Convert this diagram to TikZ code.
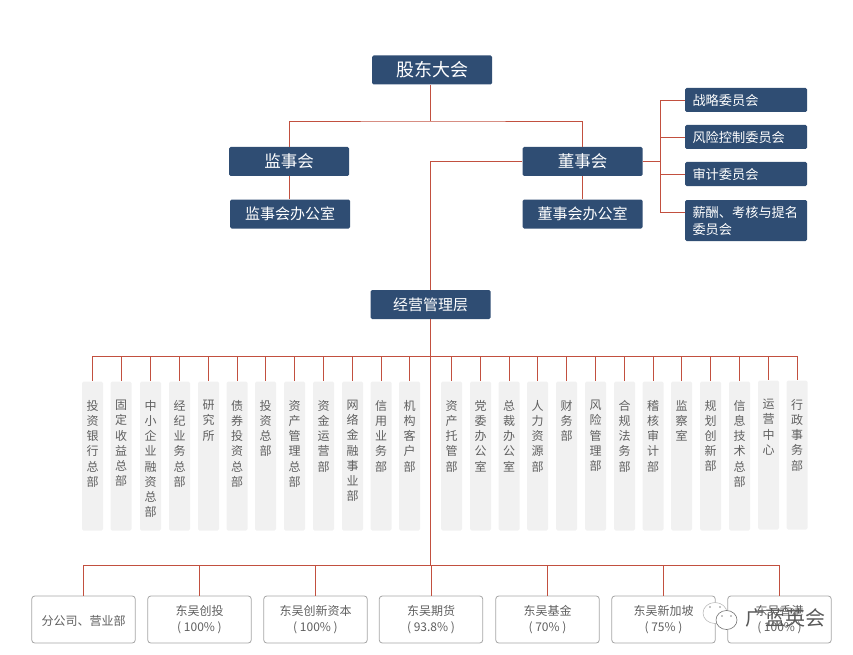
\documentclass[tikz,border=0pt]{standalone}
\usepackage{fontspec}
\setmainfont{Noto Sans CJK SC}
\usepackage{tikz}
\definecolor{navy}{HTML}{2F4D73}
\definecolor{linkred}{HTML}{C2503F}
\definecolor{deptgray}{HTML}{F1F1F1}
\definecolor{textgray}{HTML}{606060}
\newcommand{\vlabel}[1]{\parbox[c][149pt][t]{21pt}{\vspace{18.7pt}\centering #1\par}}

\begin{document}
\begin{tikzpicture}[x=1pt,y=-1pt,-,auto,
  link/.style={draw=linkred,line width=0.85pt},
  main node/.style={fill=navy,text=white,rounded corners=1.5pt,inner sep=0pt,minimum width=120pt,minimum height=29pt},
  committee node/.style={fill=navy,text=white,rounded corners=1.5pt,inner xsep=7.5pt,inner ysep=0pt,text width=107pt,align=left,minimum height=24pt,font=\fontsize{13.2}{17}\selectfont},
  dept node/.style={fill=deptgray,text=textgray,rounded corners=1.5pt,inner sep=0pt,minimum width=21pt,minimum height=149pt,font=\fontsize{12}{15.2}\selectfont},
  sub node/.style={draw=black!35,fill=white,text=textgray,rounded corners=3pt,line width=0.8pt,inner sep=0pt,minimum width=103.5pt,minimum height=47pt,align=center,font=\fontsize{12}{15.5}\selectfont,execute at begin node={\rule{0pt}{13.6pt}}}]
  \useasboundingbox (0,0) rectangle (853,655);
  \node[main node,font=\fontsize{18}{22}\selectfont] (agm) at (432, 70) {股东大会};
  \node[main node,font=\fontsize{16.5}{20}\selectfont] (sup) at (289, 161.5) {监事会};
  \node[main node,font=\fontsize{15}{18}\selectfont] (supoff) at (290, 214) {监事会办公室};
  \node[main node,font=\fontsize{16.5}{20}\selectfont] (board) at (582.5, 161.5) {董事会};
  \node[main node,font=\fontsize{15}{18}\selectfont] (boardoff) at (582.5, 214) {董事会办公室};
  \node[main node,font=\fontsize{15}{18}\selectfont] (mgmt) at (430.5, 304.5) {经营管理层};
  \node[committee node] (c1) at (746, 100) {战略委员会};
  \node[committee node] (c2) at (746, 137) {风险控制委员会};
  \node[committee node] (c3) at (746, 174) {审计委员会};
  \node[committee node,minimum height=41pt] (c4) at (746, 220.5) {薪酬、考核与提名\\委员会};
  \node[dept node] (d1) at (92.5, 456) {\vlabel{投\\资\\银\\行\\总\\部}};
  \node[dept node] (d2) at (121, 456) {\vlabel{固\\定\\收\\益\\总\\部}};
  \node[dept node] (d3) at (150.5, 456) {\vlabel{中\\小\\企\\业\\融\\资\\总\\部}};
  \node[dept node] (d4) at (179.5, 456) {\vlabel{经\\纪\\业\\务\\总\\部}};
  \node[dept node] (d5) at (208.5, 456) {\vlabel{研\\究\\所}};
  \node[dept node] (d6) at (237, 456) {\vlabel{债\\券\\投\\资\\总\\部}};
  \node[dept node] (d7) at (265.5, 456) {\vlabel{投\\资\\总\\部}};
  \node[dept node] (d8) at (294.5, 456) {\vlabel{资\\产\\管\\理\\总\\部}};
  \node[dept node] (d9) at (323.5, 456) {\vlabel{资\\金\\运\\营\\部}};
  \node[dept node] (d10) at (352.5, 456) {\vlabel{网\\络\\金\\融\\事\\业\\部}};
  \node[dept node] (d11) at (381, 456) {\vlabel{信\\用\\业\\务\\部}};
  \node[dept node] (d12) at (409.5, 456) {\vlabel{机\\构\\客\\户\\部}};
  \node[dept node] (d13) at (451.5, 456) {\vlabel{资\\产\\托\\管\\部}};
  \node[dept node] (d14) at (480.5, 456) {\vlabel{党\\委\\办\\公\\室}};
  \node[dept node] (d15) at (509, 456) {\vlabel{总\\裁\\办\\公\\室}};
  \node[dept node] (d16) at (537.5, 456) {\vlabel{人\\力\\资\\源\\部}};
  \node[dept node] (d17) at (566.5, 456) {\vlabel{财\\务\\部}};
  \node[dept node] (d18) at (595.5, 456) {\vlabel{风\\险\\管\\理\\部}};
  \node[dept node] (d19) at (624.5, 456) {\vlabel{合\\规\\法\\务\\部}};
  \node[dept node] (d20) at (653, 456) {\vlabel{稽\\核\\审\\计\\部}};
  \node[dept node] (d21) at (681.5, 456) {\vlabel{监\\察\\室}};
  \node[dept node] (d22) at (710.5, 456) {\vlabel{规\\划\\创\\新\\部}};
  \node[dept node] (d23) at (739.5, 456) {\vlabel{信\\息\\技\\术\\总\\部}};
  \node[dept node] (d24) at (768.5, 455) {\vlabel{运\\营\\中\\心}};
  \node[dept node] (d25) at (797, 455) {\vlabel{行\\政\\事\\务\\部}};
  \node[sub node,execute at begin node={}] (s1) at (83.5, 619.5) {分公司、营业部};
  \node[sub node] (s2) at (199.5, 619.5) {东吴创投\\( 100\% )};
  \node[sub node] (s3) at (315.5, 619.5) {东吴创新资本\\( 100\% )};
  \node[sub node] (s4) at (431, 619.5) {东吴期货\\( 93.8\% )};
  \node[sub node] (s5) at (547.5, 619.5) {东吴基金\\( 70\% )};
  \node[sub node] (s6) at (663.5, 619.5) {东吴新加坡\\( 75\% )};
  \node[sub node] (s7) at (779.5, 619.5) {东吴香港\\( 100\% )};
  \coordinate (topbus) at (430.5, 121);
  \coordinate (combus) at (660, 161.5);
  \coordinate (deptbus) at (430.5, 356);
  \coordinate (subbus) at (430.5, 565);
  % upper part
  \draw[link] (agm.south -| topbus) -- (topbus);
  \draw[link] (sup.north) |- (topbus) -| (board.north);
  \draw[link] (sup.south) -- (sup.south |- supoff.north);
  \draw[link] (board.south) -- (boardoff.north);
  \draw[link] (board.west) -| (mgmt.north);
  \draw[link] (board.east) -- (combus);
  \draw[link] (c1.west) -| (combus);
  \draw[link] (c2.west) -| (combus);
  \draw[link] (c3.west) -| (combus);
  \draw[link] (c4.west |- 0,212) -| (combus);
  % trunk
  \draw[link] (mgmt.south) -- (subbus);
  \draw[link] (deptbus) -| (d1.north);
  \draw[link] (deptbus) -| (d2.north);
  \draw[link] (deptbus) -| (d3.north);
  \draw[link] (deptbus) -| (d4.north);
  \draw[link] (deptbus) -| (d5.north);
  \draw[link] (deptbus) -| (d6.north);
  \draw[link] (deptbus) -| (d7.north);
  \draw[link] (deptbus) -| (d8.north);
  \draw[link] (deptbus) -| (d9.north);
  \draw[link] (deptbus) -| (d10.north);
  \draw[link] (deptbus) -| (d11.north);
  \draw[link] (deptbus) -| (d12.north);
  \draw[link] (deptbus) -| (d13.north);
  \draw[link] (deptbus) -| (d14.north);
  \draw[link] (deptbus) -| (d15.north);
  \draw[link] (deptbus) -| (d16.north);
  \draw[link] (deptbus) -| (d17.north);
  \draw[link] (deptbus) -| (d18.north);
  \draw[link] (deptbus) -| (d19.north);
  \draw[link] (deptbus) -| (d20.north);
  \draw[link] (deptbus) -| (d21.north);
  \draw[link] (deptbus) -| (d22.north);
  \draw[link] (deptbus) -| (d23.north);
  \draw[link] (deptbus) -| (d24.north);
  \draw[link] (deptbus) -| (d25.north);
  \draw[link] (subbus) -| (s1.north);
  \draw[link] (subbus) -| (s2.north);
  \draw[link] (subbus) -| (s3.north);
  \draw[link] (subbus) -| (s4.north);
  \draw[link] (subbus) -| (s5.north);
  \draw[link] (subbus) -| (s6.north);
  \draw[link] (subbus) -| (s7.north);
  % watermark
  \draw[black!30,fill=white,line width=0.5pt] (715, 613) ellipse (12 and 10.5);
  \draw[black!55,fill=white,line width=0.6pt] (726.5, 620) ellipse (10.5 and 9.5);
  \fill[black!45] (710, 607) circle (0.8) (720, 607) circle (0.8) (722, 616) circle (0.8) (731, 616) circle (0.8);
  \node[text=black!65,inner sep=0pt,font=\fontsize{20}{24}\selectfont] (mark) at (785.5, 618) {广蓝英会};
\end{tikzpicture}
\end{document}
